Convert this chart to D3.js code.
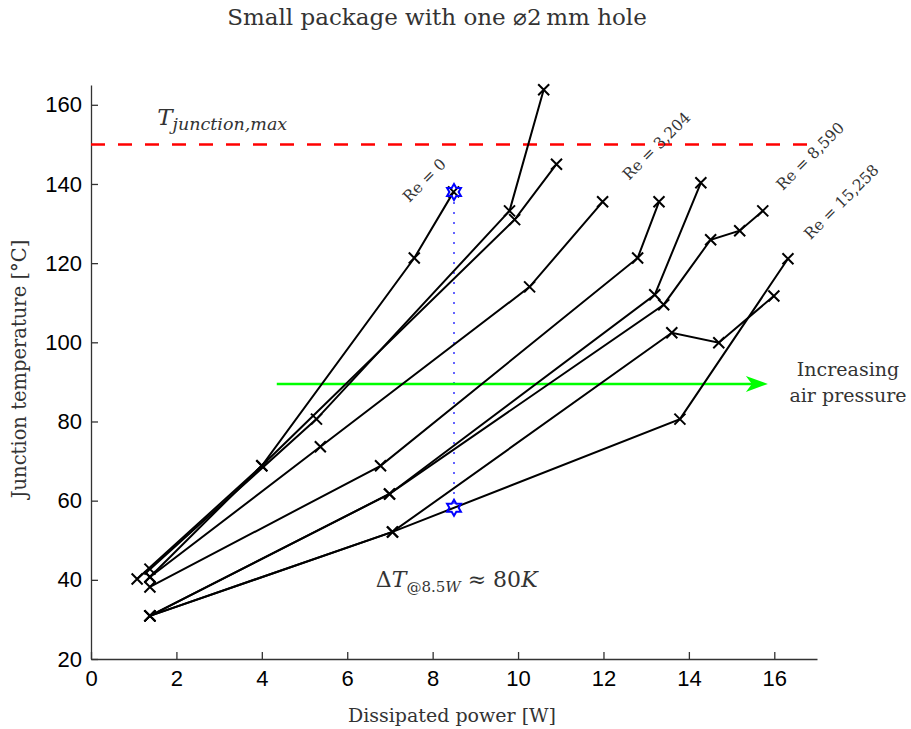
<!DOCTYPE html>
<html>
<head>
<meta charset="utf-8">
<script src="https://cdn.jsdelivr.net/npm/d3@7"></script>
<style>
body { margin:0; background:#fff; }
.serif { font-family: "DejaVu Serif", serif; fill:#333; }
.axis path, .axis line { stroke:#333; stroke-width:1.3; }
.axis text { font-family: "Liberation Sans", Arial, sans-serif; font-size:22px; fill:#000; }
</style>
</head>
<body>
<svg id="chart" width="911" height="729"></svg>
<script>

var width = 911, height = 729;
var margin = {top: 85, right: 94, bottom: 70, left: 91};

// ticks
var xTicks = [0, 2, 4, 6, 8, 10, 12, 14, 16];
var yTicks = [20, 40, 60, 80, 100, 120, 140, 160];

// dissipated power [W] per measurement run
var power = [
  [1.08, 4.00, 7.57, 8.49],
  [1.38, 4.00, 9.92, 10.90],
  [1.38, 5.28, 9.80, 10.60],
  [1.38, 5.37, 10.27, 11.98],
  [1.38, 6.78, 12.80, 13.30],
  [1.38, 6.99, 13.20, 14.28],
  [1.38, 6.99, 13.41, 14.51, 15.19, 15.73],
  [1.38, 7.06, 13.60, 14.70, 15.99],
  [1.38, 7.06, 13.79, 16.32]
];
// junction temperature [C]
var temp = [
  [40.2, 68.8, 121.3, 138.0],
  [40.7, 68.8, 131.0, 145.0],
  [42.7, 80.6, 133.2, 163.8],
  [40.7, 73.6, 114.0, 135.5],
  [38.2, 68.8, 121.3, 135.5],
  [30.9, 61.7, 112.0, 140.3],
  [30.9, 61.7, 109.5, 125.9, 128.2, 133.2],
  [30.9, 52.1, 102.4, 99.9, 111.7],
  [30.9, 52.1, 80.6, 121.1]
];

var tMax = 150;
var starPower = 8.5;
var starTemp = [138.0, 58.2];

var reLabels = ["Re = 0", "Re = 3,204", "Re = 8,590", "Re = 15,258"];
var reLabelAt = [[7.45, 135.2], [12.6, 140.8], [16.2, 138.2], [16.85, 125.8]];

var arrowFrom = [4.35, 89.5], arrowTo = [15.85, 89.5];

var svg = d3.select("#chart");

var x = d3.scaleLinear().domain([0, 17]).range([margin.left, width - margin.right]);
var y = d3.scaleLinear().domain([20, 165]).range([height - margin.bottom, margin.top]);

// axes
svg.append("g")
  .attr("class", "axis")
  .attr("transform", "translate(0," + y(20) + ")")
  .call(d3.axisBottom(x).tickValues(xTicks).tickSize(-7).tickSizeOuter(0).tickPadding(11));

svg.append("g")
  .attr("class", "axis")
  .attr("transform", "translate(" + x(0) + ",0)")
  .call(d3.axisLeft(y).tickValues(yTicks).tickSize(-7).tickSizeOuter(0).tickPadding(9));

// T max line
svg.append("line")
  .attr("x1", x(0)).attr("x2", x(17))
  .attr("y1", y(tMax)).attr("y2", y(tMax))
  .attr("stroke", "#ff0000").attr("stroke-width", 2.5)
  .attr("stroke-dasharray", "14,13");

// dotted vertical
svg.append("line")
  .attr("x1", x(starPower)).attr("x2", x(starPower))
  .attr("y1", y(starTemp[0])).attr("y2", y(starTemp[1]))
  .attr("stroke", "#3030ff").attr("stroke-width", 1.5)
  .attr("stroke-dasharray", "2,8");

// green arrow
svg.append("line")
  .attr("x1", x(arrowFrom[0])).attr("x2", x(arrowTo[0]) - 10)
  .attr("y1", y(arrowFrom[1])).attr("y2", y(arrowTo[1]))
  .attr("stroke", "#00ff00").attr("stroke-width", 2.5);
var tipX = x(arrowTo[0]), tipY = y(arrowTo[1]);
svg.append("path")
  .attr("d", "M" + tipX + "," + tipY + "L" + (tipX - 22) + "," + (tipY - 8) +
             "L" + (tipX - 16) + "," + tipY + "L" + (tipX - 22) + "," + (tipY + 8) + "Z")
  .attr("fill", "#00ff00");

// series
var line = d3.line().x(function(d) { return x(d[0]); }).y(function(d) { return y(d[1]); });

power.forEach(function(p, i) {
  var pts = d3.zip(p, temp[i]);
  svg.append("path")
    .datum(pts)
    .attr("d", line)
    .attr("fill", "none")
    .attr("stroke", "#000")
    .attr("stroke-width", 2);

  svg.selectAll(null)
    .data(pts)
    .enter().append("path")
    .attr("transform", function(d) { return "translate(" + x(d[0]) + "," + y(d[1]) + ")"; })
    .attr("d", "M-5.5,-5.5L5.5,5.5M-5.5,5.5L5.5,-5.5")
    .attr("stroke", "#000")
    .attr("stroke-width", 2);
});

// hexagram markers
function hexagram(r) {
  var p = d3.path(), ri = r / Math.sqrt(3);
  for (var k = 0; k < 12; k++) {
    var a = -Math.PI / 2 + k * Math.PI / 6;
    var rr = k % 2 === 0 ? r : ri;
    if (k === 0) p.moveTo(rr * Math.cos(a), rr * Math.sin(a));
    else p.lineTo(rr * Math.cos(a), rr * Math.sin(a));
  }
  p.closePath();
  return p.toString();
}
svg.selectAll(".star")
  .data(starTemp)
  .enter().append("path")
  .attr("class", "star")
  .attr("transform", function(d) { return "translate(" + x(starPower) + "," + y(d) + ")"; })
  .attr("d", hexagram(8))
  .attr("fill", "none")
  .attr("stroke", "#0000ff")
  .attr("stroke-width", 2);

// Re labels
svg.selectAll(".re")
  .data(reLabels)
  .enter().append("text")
  .attr("class", "serif re")
  .attr("font-size", 15.5)
  .attr("transform", function(d, i) {
    return "translate(" + x(reLabelAt[i][0]) + "," + y(reLabelAt[i][1]) + ") rotate(-45)";
  })
  .text(function(d) { return d; });

// title
svg.append("text")
  .attr("class", "serif")
  .attr("x", 437).attr("y", 25)
  .attr("text-anchor", "middle")
  .attr("font-size", 23)
  .text("Small package with one \u23002\u2009mm hole");

// axis labels
svg.append("text")
  .attr("class", "serif")
  .attr("x", (x(0) + x(17)) / 2 - 2).attr("y", 722)
  .attr("text-anchor", "middle")
  .attr("font-size", 19)
  .text("Dissipated power [W]");

svg.append("text")
  .attr("class", "serif")
  .attr("transform", "translate(26,369) rotate(-90)")
  .attr("text-anchor", "middle")
  .attr("font-size", 19.5)
  .text("Junction temperature [\u00b0C]");

// T junction max
var tj = svg.append("text")
  .attr("class", "serif")
  .attr("x", x(1.55)).attr("y", y(155))
  .attr("font-size", 23)
  .attr("font-style", "italic");
tj.append("tspan").text("T");
tj.append("tspan").attr("font-size", 17.5).attr("dy", 5).text("junction,max");

// delta T
var dt = svg.append("text")
  .attr("class", "serif")
  .attr("x", x(6.67)).attr("y", y(38.2))
  .attr("font-size", 22);
dt.append("tspan").text("\u0394");
dt.append("tspan").attr("font-style", "italic").text("T");
dt.append("tspan").attr("font-size", 15).attr("dy", 5).text("@8.5");
dt.append("tspan").attr("font-size", 15).attr("font-style", "italic").text("W");
dt.append("tspan").attr("dy", -5).text(" \u2248 80");
dt.append("tspan").attr("font-style", "italic").text("K");

// arrow text
svg.append("text")
  .attr("class", "serif")
  .attr("x", 848).attr("y", y(91.6))
  .attr("text-anchor", "middle")
  .attr("font-size", 19)
  .text("Increasing");
svg.append("text")
  .attr("class", "serif")
  .attr("x", 848).attr("y", y(84.8))
  .attr("text-anchor", "middle")
  .attr("font-size", 19)
  .text("air pressure");

</script>
</body>
</html>
